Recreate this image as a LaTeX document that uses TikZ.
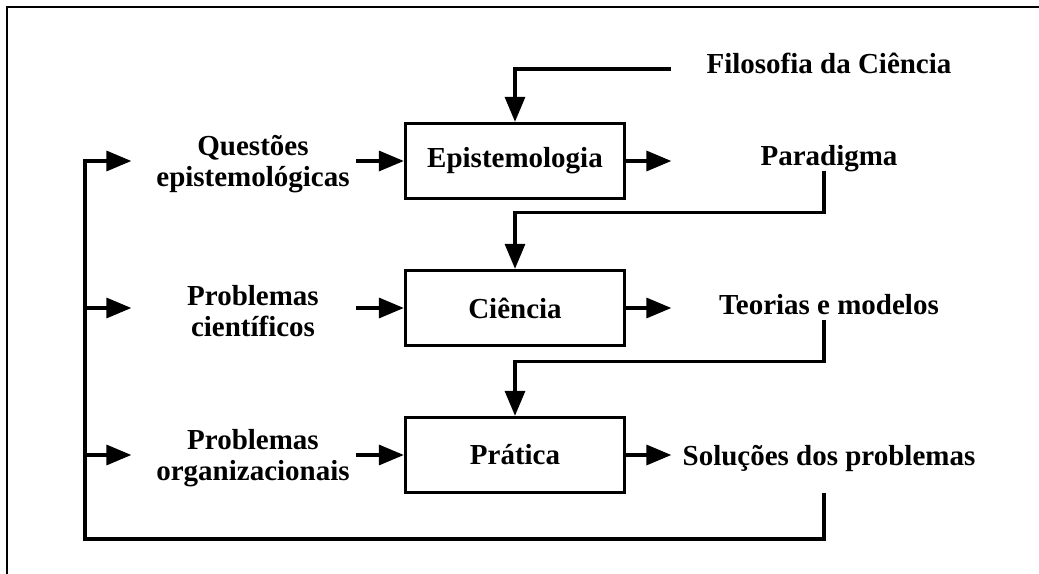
\documentclass[tikz,border=0pt]{standalone}
\usepackage{fontspec}
\setmainfont{Liberation Serif}
\usetikzlibrary{arrows.meta}
\begin{document}
\begin{tikzpicture}[x=0.02cm,y=-0.02cm,line width=1.9pt,
 font=\bfseries\fontsize{16.5}{17.6}\selectfont,
 box/.style={draw,minimum width=4.38cm,minimum height=1.5cm},
 lab/.style={minimum width=4.8cm,align=center,inner sep=0pt},
 res/.style={minimum width=6.24cm,inner sep=0pt,text height=0.7em,text depth=0.2em},
 arr/.style={-{Triangle[length=0.5cm,width=0.4cm]}}]
 \useasboundingbox (0,0) rectangle (1039,574);
 \draw[line width=0.6pt] (1039,7) -- (7,7) -- (7,574);
 \node[box] (epi) at (515,161) {Epistemologia};
 \node[box] (cie) at (515,308) {Ciência};
 \node[box] (pra) at (515,455) {Prática};
 \node[lab] (qst) at (253,164) {Questões\\epistemológicas};
 \node[lab] (pcie) at (253,311) {Problemas\\científicos};
 \node[lab] (porg) at (253,458) {Problemas\\organizacionais};
 \node[res] (fil) at (829,69) {Filosofia da Ciência};
 \node[res] (par) at (829,161) {Paradigma};
 \node[res] (teo) at (829,310) {Teorias e modelos};
 \node[res] (sol) at (829,461) {Soluções dos problemas};
 \coordinate (fb) at (85,539);
 \draw[arr] (fil.west) -| (epi.north);
 \draw[arr] (epi.east) -- (par.west);
 \draw[arr] (cie.east) -- (teo.west |- cie);
 \draw[arr] (pra.east) -- (sol.west |- pra);
 \draw[arr] ([xshift=-0.96cm]epi.west) -- (epi.west);
 \draw[arr] ([xshift=-0.96cm]cie.west) -- (cie.west);
 \draw[arr] ([xshift=-0.96cm]pra.west) -- (pra.west);
 \draw[arr] ([xshift=-0.1cm]par.south) -- ++(0,42) -| (cie.north);
 \draw[arr] ([xshift=-0.1cm]teo.south) -- ++(0,42) -| (pra.north);
 \draw[arr] ([xshift=-0.1cm,yshift=-0.44cm]sol.south) |- (fb) |- (qst.west |- epi);
 \draw[arr] (fb |- cie) -- (pcie.west |- cie);
 \draw[arr] (fb |- pra) -- (porg.west |- pra);
\end{tikzpicture}
\end{document}
